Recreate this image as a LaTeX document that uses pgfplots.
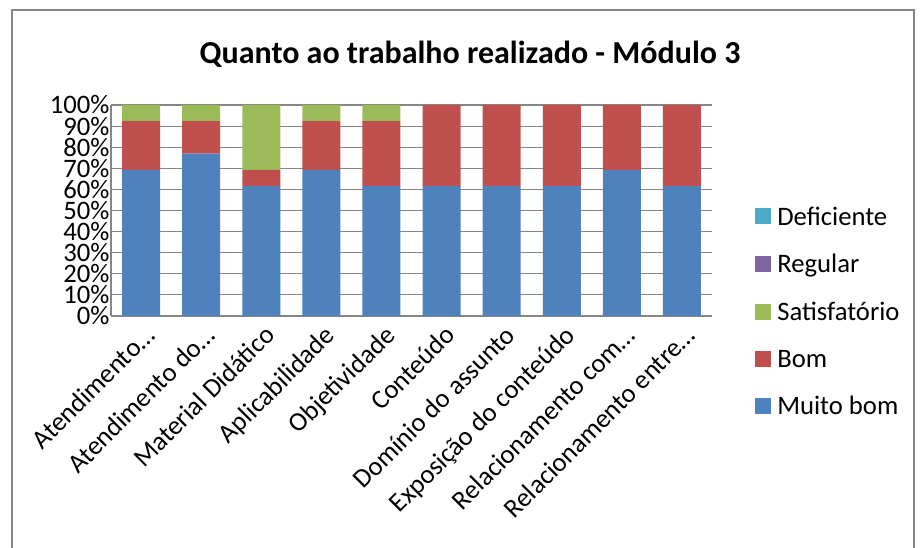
\documentclass[border=0pt]{standalone}
\usepackage{pgfplots}
\pgfplotsset{compat=1.18}
\usepackage{fontspec}
\setmainfont{Carlito}
\definecolor{cBlue}{HTML}{4F81BD}
\definecolor{cRed}{HTML}{C0504D}
\definecolor{cGreen}{HTML}{9BBB59}
\definecolor{cPurple}{HTML}{8064A2}
\definecolor{cTeal}{HTML}{4BACC6}
\definecolor{cGrid}{HTML}{868686}
\begin{document}
\begin{tikzpicture}
\useasboundingbox (0,0) rectangle (690pt,411pt);
\draw[cGrid, line width=0.8pt] (9pt,-5pt) rectangle (685.5pt,403.5pt);
\node[font=\fontsize{24}{28}\selectfont\bfseries] at (352.5pt,370pt) {Quanto ao trabalho realizado - Módulo 3};
\begin{axis}[
  at={(83.25pt,174pt)}, anchor=south west,
  scale only axis, width=450.75pt, height=158.25pt,
  ybar stacked, bar width=28.5pt,
  xmin=-0.5, xmax=9.5, ymin=0, ymax=100,
  xtick={0,1,2,3,4,5,6,7,8,9},
  xticklabels={Atendimento…, Atendimento do…, Material Didático, Aplicabilidade, Objetividade, Conteúdo, Domínio do assunto, Exposição do conteúdo, Relacionamento com…, Relacionamento entre…},
  xticklabel style={rotate=45, anchor=north east, inner sep=1pt, xshift=-2pt, yshift=-4pt},
  ytick={0,10,20,30,40,50,60,70,80,90,100},
  yticklabels={0\%,10\%,20\%,30\%,40\%,50\%,60\%,70\%,80\%,90\%,100\%},
  yticklabel style={inner sep=1pt},
  tick label style={font=\fontsize{20}{20}\selectfont},
  /pgf/number format/assume math mode=true,
  major tick length=0pt,
  ymajorgrids, grid style={cGrid, line width=0.8pt},
  axis x line*=bottom, axis y line*=left,
  axis line style={cGrid, line width=0.8pt, -},
  legend style={at={(rel axis cs:1.065,0.545)}, anchor=north west, draw=none, fill=none,
    font=\fontsize{20}{20}\selectfont, row sep=16.5pt, cells={anchor=west}},
  legend image code/.code={\fill[#1] (0pt,-5.5pt) rectangle (12pt,6.5pt); \path (14.5pt,0pt);},
  reverse legend,
]
\addplot[fill=cBlue, draw=none] coordinates {(0,69.23) (1,76.92) (2,61.54) (3,69.23) (4,61.54) (5,61.54) (6,61.54) (7,61.54) (8,69.23) (9,61.54)};
\addplot[fill=cRed, draw=none] coordinates {(0,23.08) (1,15.38) (2,7.69) (3,23.08) (4,30.77) (5,38.46) (6,38.46) (7,38.46) (8,30.77) (9,38.46)};
\addplot[fill=cGreen, draw=none] coordinates {(0,7.69) (1,7.69) (2,30.77) (3,7.69) (4,7.69) (5,0) (6,0) (7,0) (8,0) (9,0)};
\addplot[fill=cPurple, draw=none] coordinates {(0,0) (1,0) (2,0) (3,0) (4,0) (5,0) (6,0) (7,0) (8,0) (9,0)};
\addplot[fill=cTeal, draw=none] coordinates {(0,0) (1,0) (2,0) (3,0) (4,0) (5,0) (6,0) (7,0) (8,0) (9,0)};
\legend{Muito bom, Bom, Satisfatório, Regular, Deficiente}
\end{axis}
\end{tikzpicture}
\end{document}
